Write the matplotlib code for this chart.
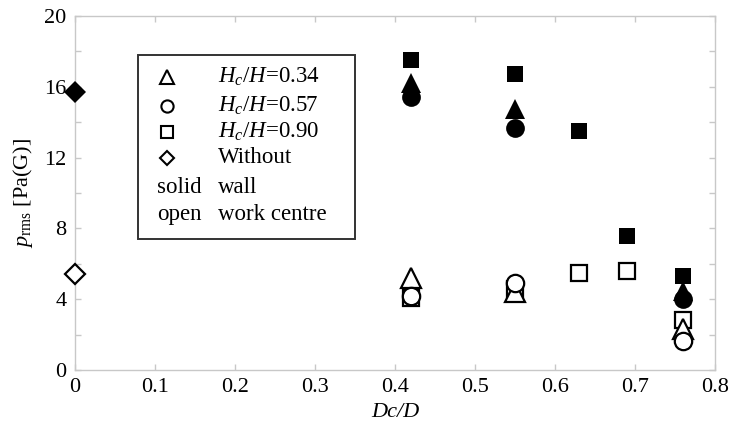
import matplotlib
matplotlib.use("Agg")
import matplotlib.pyplot as plt
from matplotlib.patches import Rectangle
from matplotlib.lines import Line2D

plt.rcParams["font.family"] = "Liberation Serif"
plt.rcParams["mathtext.fontset"] = "custom"
plt.rcParams["mathtext.rm"] = "Liberation Serif"
plt.rcParams["mathtext.it"] = "Liberation Serif:italic"

# data
x_tri = [0.42, 0.55, 0.76]
tri_solid = [16.2, 14.75, 4.45]
tri_open = [5.2, 4.4, 2.3]

x_circ = [0.42, 0.55, 0.76]
circ_solid = [15.4, 13.7, 4.0]
circ_open = [4.2, 4.9, 1.65]

x_sq = [0.42, 0.55, 0.63, 0.69, 0.76]
sq_solid = [17.5, 16.75, 13.5, 7.55, 5.3]
sq_open = [4.05, 4.55, 5.5, 5.6, 2.8]

x_without = [0.0]
without_solid = [15.7]
without_open = [5.4]

legend_labels = [r"$H_c/H$=0.34", r"$H_c/H$=0.57", r"$H_c/H$=0.90", "Without"]
legend_words = [("solid", "wall"), ("open", "work centre")]

xticks = [0, 0.1, 0.2, 0.3, 0.4, 0.5, 0.6, 0.7, 0.8]
xtick_labels = ["0", "0.1", "0.2", "0.3", "0.4", "0.5", "0.6", "0.7", "0.8"]
yticks = [0, 4, 8, 12, 16, 20]

fig = plt.figure(figsize=(7.31, 4.28), dpi=100)
ax = fig.add_axes([0.1026, 0.1355, 0.8755, 0.827])

mk = {"^": 15, "o": 13.5, "s": 12, "D": 11.5}
leg_mk = {"^": 10, "o": 8.8, "s": 8, "D": 7.5}
lw = 1.6

def pts(x, y, m, filled):
    if filled:
        ax.plot(x, y, linestyle="none", marker=m, markersize=mk[m],
                color="black", markeredgewidth=0, zorder=3, clip_on=False)
    else:
        ax.plot(x, y, linestyle="none", marker=m, markersize=mk[m] - 1,
                markerfacecolor="white", markeredgecolor="black",
                markeredgewidth=lw, zorder=3, clip_on=False)

pts(x_sq, sq_open, "s", False)
pts(x_tri, tri_open, "^", False)
pts(x_circ, circ_open, "o", False)
pts(x_without, without_open, "D", False)

pts(x_circ, circ_solid, "o", True)
pts(x_tri, tri_solid, "^", True)
pts(x_sq, sq_solid, "s", True)
pts(x_without, without_solid, "D", True)

ax.set_xlim(0, 0.8)
ax.set_ylim(0, 20)
ax.set_xticks(xticks)
ax.set_xticklabels(xtick_labels)
ax.set_yticks(yticks)
ax.set_yticks([2, 6, 10, 14, 18], minor=True)

gray = "#c8c8c8"
for s in ax.spines.values():
    s.set_color(gray)
    s.set_linewidth(1.0)
ax.tick_params(which="both", direction="in", color=gray, top=True, right=True,
               length=4, width=1.0, labelsize=16, pad=6)

ax.set_xlabel("Dc/D", fontsize=16, style="italic", labelpad=4)
ax.set_ylabel(r"$p_{\mathrm{rms}}$ [Pa(G)]", fontsize=16, labelpad=7)

# hand-made legend box
box = Rectangle((0.098, 0.37), 0.339, 0.52, transform=ax.transAxes,
                facecolor="white", edgecolor="#333333", linewidth=1.4, zorder=4)
ax.add_patch(box)
sym_x = 0.144
txt_x = 0.223
row_y = [0.828, 0.746, 0.672, 0.599, 0.517, 0.438]
for m, lab, yy in zip(["^", "o", "s", "D"], legend_labels, row_y):
    ax.add_line(Line2D([sym_x], [yy], transform=ax.transAxes, marker=m,
                       markersize=leg_mk[m], markerfacecolor="white",
                       markeredgecolor="black", markeredgewidth=1.5,
                       linestyle="none", zorder=5))
    ax.text(txt_x, yy, lab, transform=ax.transAxes, fontsize=16.5,
            va="center", ha="left", zorder=5)
for (a, b), yy in zip(legend_words, row_y[4:]):
    ax.text(0.128, yy, a, transform=ax.transAxes, fontsize=16.5,
            va="center", ha="left", zorder=5)
    ax.text(txt_x, yy, b, transform=ax.transAxes, fontsize=16.5,
            va="center", ha="left", zorder=5)

fig.savefig("out.png", dpi=100)
